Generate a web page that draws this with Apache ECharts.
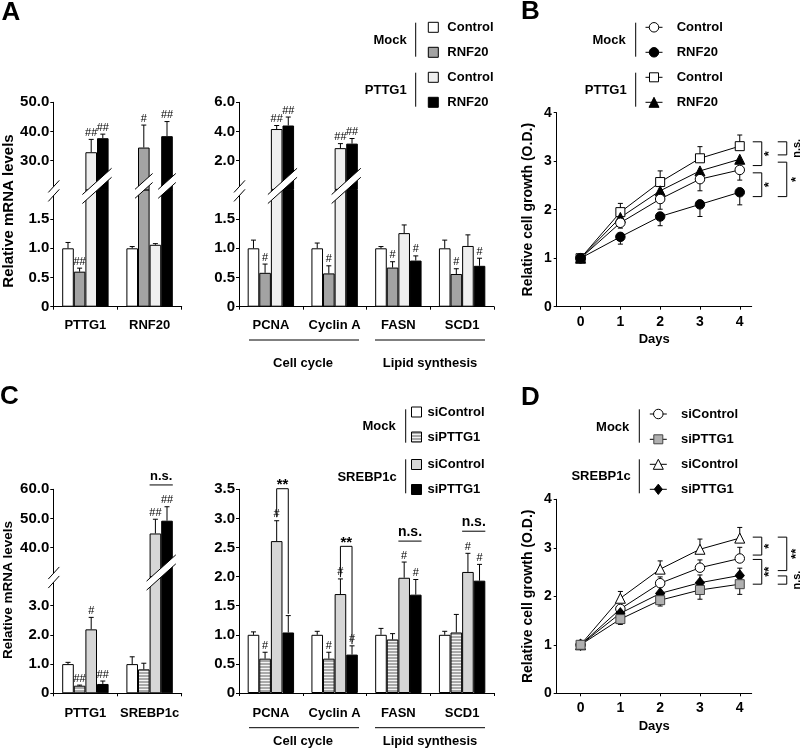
<!DOCTYPE html>
<html>
<head>
<meta charset="utf-8">
<script src="https://cdn.jsdelivr.net/npm/echarts@6/dist/echarts.min.js"></script>
<style>
  html, body { margin: 0; padding: 0; background: #fff; }
  #chart { width: 800px; height: 750px; }
</style>
</head>
<body>
<div id="chart"></div>
<script>
// ---- A: relative mRNA levels (rows: Mock Control, Mock RNF20, PTTG1 Control, PTTG1 RNF20)
const catA1 = ['PTTG1', 'RNF20'];
const meanA1 = [[1.00, 1.00], [0.60, 34.5], [32.9, 1.06], [37.7, 38.4]];
const errA1 = [[1.10, 1.03], [0.66, 42.2], [37.3, 1.08], [39.1, 43.4]];   // top of error bar
const markA1 = [['', ''], ['##', '#'], ['##', ''], ['##', '##']];

const catA2 = ['PCNA', 'Cyclin A', 'FASN', 'SCD1'];
const meanA2 = [[1.00, 1.00, 1.00, 1.00], [0.58, 0.57, 0.67, 0.56], [4.17, 2.86, 1.26, 1.04], [4.41, 3.17, 0.79, 0.70]];
const errA2 = [[1.14, 1.09, 1.03, 1.14], [0.73, 0.70, 0.77, 0.65], [4.41, 3.17, 1.40, 1.23], [4.99, 3.52, 0.87, 0.83]];
const markA2 = [['', '', '', ''], ['#', '#', '#', '#'], ['##', '##', '', ''], ['##', '##', '#', '#']];

// ---- C: rows: Mock siControl, Mock siPTTG1, SREBP1c siControl, SREBP1c siPTTG1
const catC1 = ['PTTG1', 'SREBP1c'];
const meanC1 = [[1.00, 1.00], [0.26, 0.82], [2.19, 44.8], [0.32, 49.2]];
const errC1 = [[1.06, 1.25], [0.28, 1.03], [2.60, 49.7], [0.42, 54.0]];
const markC1 = [['', ''], ['##', ''], ['#', '##'], ['##', '##']];
const sigC1 = [[1, 2, 3, 61.5, null, null, 'n.s.']];

const catC2 = ['PCNA', 'Cyclin A', 'FASN', 'SCD1'];
const meanC2 = [[1.00, 1.00, 1.00, 1.00], [0.59, 0.59, 0.92, 1.04], [2.61, 1.70, 1.98, 2.08], [1.04, 0.66, 1.69, 1.93]];
const errC2 = [[1.05, 1.06, 1.11, 1.06], [0.70, 0.70, 1.02, 1.35], [2.96, 1.96, 2.25, 2.40], [1.33, 0.81, 1.95, 2.21]];
const markC2 = [['', '', '', ''], ['#', '#', '', ''], ['#', '#', '#', '#'], ['', '#', '#', '#']];
// category, first bar, last bar, line y, leg y first, leg y last, label
const sigC2 = [[0, 2, 3, 3.51, 3.02, 1.36, '**'], [1, 2, 3, 2.52, 1.99, 0.84, '**'],
               [2, 2, 3, 2.61, null, null, 'n.s.'], [3, 2, 3, 2.78, null, null, 'n.s.']];

// ---- B / D: relative cell growth
const days = [0, 1, 2, 3, 4];
const bMockCtrl = [1.00, 1.73, 2.22, 2.63, 2.82];
const bMockCtrlErr = [null, 1.62, 2.01, 2.39, 2.61];
const bMockRnf = [1.00, 1.44, 1.86, 2.11, 2.36];
const bMockRnfErr = [null, 1.29, 1.67, 1.86, 2.10];
const bPttgCtrl = [1.00, 1.95, 2.57, 3.06, 3.31];
const bPttgCtrlErr = [null, 2.13, 2.80, 3.30, 3.54];
const bPttgRnf = [1.00, 1.84, 2.39, 2.80, 3.04];
const bPttgRnfErr = [null, null, null, null, null];
const bSig = [[3.40, 2.91, 0, '*'], [2.76, 2.27, 0, '*'], [3.40, 3.13, 1, 'n.s.'], [2.98, 2.27, 1, '*']];

const dMockCtrl = [1.00, 1.74, 2.27, 2.59, 2.78];
const dMockCtrlErr = [null, null, 2.40, 2.75, 3.01];
const dMockSi = [1.00, 1.53, 1.92, 2.13, 2.25];
const dMockSiErr = [null, 1.42, 1.80, 1.94, 2.04];
const dSrebCtrl = [1.00, 1.96, 2.56, 2.97, 3.20];
const dSrebCtrlErr = [null, 2.10, 2.73, 3.18, 3.42];
const dSrebSi = [1.00, 1.65, 2.06, 2.28, 2.43];
const dSrebSiErr = [null, null, null, 2.44, 2.58];
const dSig = [[3.22, 2.85, 0, '*'], [2.76, 2.25, 0, '**'], [3.22, 2.53, 1, '**'], [2.42, 2.25, 1, 'n.s.']];

const FONT = '"Liberation Sans", Arial, sans-serif';
const BW = 11.6;
const grid = [], xAxis = [], yAxis = [], series = [], graphic = [];

// striped fill for siPTTG1 (Mock)
const stripe = document.createElement('canvas');
stripe.width = 4; stripe.height = 3;
const sctx = stripe.getContext('2d');
sctx.fillStyle = '#a9a9a9'; sctx.fillRect(0, 0, 4, 2);
sctx.fillStyle = '#f4f4f4'; sctx.fillRect(0, 2, 4, 1);
const stripeFill = { image: stripe, repeat: 'repeat' };

const edge = { borderColor: '#000', borderWidth: 1 };
const stylesA = [{ color: '#fff', ...edge }, { color: '#a3a3a3', ...edge }, { color: '#efefef', ...edge }, { color: '#000', ...edge }];
const stylesC = [{ color: '#fff', ...edge }, { color: stripeFill, ...edge }, { color: '#d6d6d6', ...edge }, { color: '#000', ...edge }];

const fmt1 = v => v === 0 ? '0' : v.toFixed(1);

function seg(x1, y1, x2, y2) {
  return { type: 'line', shape: { x1, y1, x2, y2 }, style: { stroke: '#000', lineWidth: 1 } };
}
function label(text, x, y, va, font, rot, align) {
  const al = align || 'center';
  return {
    type: 'text', x, y, rotation: rot || 0, silent: true,
    style: { text, x: 0, y: 0, font, fill: '#000', align: al, textAlign: al, verticalAlign: va, textVerticalAlign: va }
  };
}

function catAxis(gi, cats, show, margin) {
  return {
    type: 'category', gridIndex: gi, data: cats, show,
    axisLine: { onZero: false, lineStyle: { color: '#000', width: 1 } },
    axisTick: { show: true, interval: 0, length: 3, lineStyle: { color: '#000' } },
    axisLabel: { interval: 0, margin, color: '#000', fontFamily: FONT, fontWeight: 'bold', fontSize: 13 }
  };
}
function valAxis(gi, min, max, ticks) {
  return {
    type: 'value', gridIndex: gi, min, max,
    splitLine: { show: false },
    axisLine: { show: true, onZero: false, lineStyle: { color: '#000' } },
    axisTick: { show: true, length: 3, customValues: ticks, lineStyle: { color: '#000' } },
    axisLabel: { customValues: ticks, formatter: fmt1, margin: 4, color: '#000', fontFamily: FONT, fontWeight: 'bold', fontSize: 15 }
  };
}

function errSeries(xi, yi, k, mean, top, mark, keep) {
  const rows = [];
  mean.forEach((v, c) => { if (keep(v)) rows.push([c, v, top[c], mark[c]]); });
  return {
    type: 'custom', xAxisIndex: xi, yAxisIndex: yi, z: 5, silent: true,
    data: rows.map(r => [r[0], r[1], r[2]]),
    renderItem(params, api) {
      const r = rows[params.dataIndex];
      const a = api.coord([r[0], r[1]]);
      const b = api.coord([r[0], r[2]]);
      const x = a[0] + (k - 1.5) * BW;
      const kids = [seg(x, a[1], x, b[1]), seg(x - 2.5, b[1], x + 2.5, b[1])];
      if (r[3]) kids.push(label(r[3], x, b[1] - 1, 'bottom', 'normal 11px ' + FONT));
      return { type: 'group', children: kids };
    }
  };
}

function band(x1, x2, cy, s, t) {
  const cx = (x1 + x2) / 2;
  const yl = cy + s * (cx - x1), yr = cy - s * (x2 - cx);
  return [
    { type: 'polygon', shape: { points: [[x1, yl - t / 2], [x2, yr - t / 2], [x2, yr + t / 2], [x1, yl + t / 2]] }, style: { fill: '#fff' } },
    seg(x1, yl - t / 2, x2, yr - t / 2),
    seg(x1, yl + t / 2, x2, yr + t / 2)
  ];
}

// axis break + bar breaks at the junction of the two grids
function breakSeries(xi, yi, yVal, list) {
  const rows = list.concat([[-1]]);
  return {
    type: 'custom', xAxisIndex: xi, yAxisIndex: yi, z: 10, silent: true,
    data: rows.map(r => [Math.max(r[0], 0), yVal]),
    renderItem(params, api) {
      const r = rows[params.dataIndex];
      const c = api.coord([Math.max(r[0], 0), yVal]);
      if (r[0] < 0) {
        const ax = c[0] - api.size([1, 0])[0] / 2;
        return { type: 'group', children: band(ax - 5, ax + 6, c[1] + 1, 1.1, 9) };
      }
      const x1 = c[0] + (r[1] - 2) * BW - 3, x2 = c[0] + (r[2] - 1) * BW + 3;
      return { type: 'group', children: band(x1, x2, c[1] - 4, 0.9, 9) };
    }
  };
}

function sigSeries(xi, yi, list, size) {
  return {
    type: 'custom', xAxisIndex: xi, yAxisIndex: yi, z: 6, silent: true,
    data: list.map(r => [r[0], r[3]]),
    renderItem(params, api) {
      const r = list[params.dataIndex];
      const c = api.coord([r[0], r[3]]);
      const kids = [];
      if (r[4] == null) {
        const xa = c[0] + (r[1] - 2) * BW, xb = c[0] + (r[2] - 1) * BW;
        kids.push(seg(xa, c[1], xb, c[1]));
        kids.push(label(r[6], (xa + xb) / 2, c[1] - 2, 'bottom', 'bold ' + size + 'px ' + FONT));
      } else {
        const xa = c[0] + (r[1] - 1.5) * BW, xb = c[0] + (r[2] - 1.5) * BW;
        const ya = api.coord([r[0], r[4]])[1], yb = api.coord([r[0], r[5]])[1];
        kids.push({ type: 'polyline', shape: { points: [[xa, ya], [xa, c[1]], [xb, c[1]], [xb, yb]] }, style: { stroke: '#000', fill: null, lineWidth: 1 } });
        kids.push(label(r[6], (xa + xb) / 2, c[1] + 4, 'bottom', 'bold 15px ' + FONT));
      }
      return { type: 'group', children: kids };
    }
  };
}

function addBarPanel(p) {
  const gLo = grid.push({ left: p.left, width: p.width, top: p.yBreak, height: p.y0 - p.yBreak }) - 1;
  const xLo = xAxis.push(catAxis(gLo, p.cats, true, p.labelMargin)) - 1;
  const yLo = yAxis.push(valAxis(gLo, 0, p.loMax, p.loTicks)) - 1;
  let xUp = null, yUp = null;
  if (p.upMax != null) {
    const gUp = grid.push({ left: p.left, width: p.width, top: p.yTop, height: p.yBreak - p.yTop }) - 1;
    xUp = xAxis.push(catAxis(gUp, p.cats, false, 0)) - 1;
    yUp = yAxis.push(valAxis(gUp, p.upMin, p.upMax, p.upTicks)) - 1;
  }
  p.mean.forEach((row, k) => {
    series.push({ type: 'bar', xAxisIndex: xLo, yAxisIndex: yLo, data: row, barWidth: BW, barGap: '0%', itemStyle: p.styles[k], clip: true, silent: true });
    series.push(errSeries(xLo, yLo, k, row, p.err[k], p.mark[k], v => v <= p.loMax));
    if (yUp != null) {
      series.push({ type: 'bar', xAxisIndex: xUp, yAxisIndex: yUp, data: row.map(v => v > p.loMax ? v : '-'), barWidth: BW, barGap: '0%', itemStyle: p.styles[k], clip: true, silent: true });
      series.push(errSeries(xUp, yUp, k, row, p.err[k], p.mark[k], v => v > p.loMax));
    }
  });
  if (yUp != null) series.push(breakSeries(xLo, yLo, p.loMax, p.breaks));
  if (p.sig) series.push(p.sigUp ? sigSeries(xUp, yUp, p.sig, p.sigSize) : sigSeries(xLo, yLo, p.sig, p.sigSize));
}

function lineErr(xi, yi, mean, end) {
  const rows = [];
  days.forEach((d, i) => { if (end[i] != null) rows.push([d, mean[i], end[i]]); });
  return {
    type: 'custom', xAxisIndex: xi, yAxisIndex: yi, z: 1, silent: true, data: rows,
    renderItem(params, api) {
      const a = api.coord([api.value(0), api.value(1)]);
      const b = api.coord([api.value(0), api.value(2)]);
      return { type: 'group', children: [seg(a[0], a[1], a[0], b[1]), seg(a[0] - 2.5, b[1], a[0] + 2.5, b[1])] };
    }
  };
}

function bracketSeries(xi, yi, list) {
  const last = days[days.length - 1];
  return {
    type: 'custom', xAxisIndex: xi, yAxisIndex: yi, z: 6, silent: true,
    data: list.map(r => [last, r[0]]),
    renderItem(params, api) {
      const r = list[params.dataIndex];
      const a = api.coord([last, r[0]]), b = api.coord([last, r[1]]);
      const xl = a[0] + (r[2] ? 38 : 13), xr = a[0] + (r[2] ? 47 : 22), xt = a[0] + (r[2] ? 57 : 30);
      return { type: 'group', children: [
        { type: 'polyline', shape: { points: [[xl, a[1]], [xr, a[1]], [xr, b[1]], [xl, b[1]]] }, style: { stroke: '#000', fill: null, lineWidth: 1 } },
        label(r[3], xt, (a[1] + b[1]) / 2, 'middle', 'bold ' + (r[3] === 'n.s.' ? 11 : 13) + 'px ' + FONT, Math.PI / 2)
      ] };
    }
  };
}

function addLinePanel(p) {
  const g = grid.push({ left: 556.7, width: 195, top: p.top, height: 194 }) - 1;
  const axisFont = { color: '#000', fontFamily: FONT, fontWeight: 'bold', fontSize: 14 };
  const xi = xAxis.push({
    type: 'value', gridIndex: g, min: -0.6, max: 4.3,
    name: 'Days', nameLocation: 'middle', nameGap: p.nameGap, nameTextStyle: { ...axisFont, fontSize: 13 },
    splitLine: { show: false },
    axisLine: { onZero: false, lineStyle: { color: '#000' } },
    axisTick: { show: true, customValues: days, length: 3, lineStyle: { color: '#000' } },
    axisLabel: { customValues: days, margin: 8, ...axisFont }
  }) - 1;
  const yi = yAxis.push({
    type: 'value', gridIndex: g, min: 0, max: 4, interval: 1,
    name: 'Relative cell growth (O.D.)', nameLocation: 'middle', nameGap: 22, nameTextStyle: axisFont,
    splitLine: { show: false },
    axisLine: { show: true, onZero: false, lineStyle: { color: '#000' } },
    axisTick: { show: true, length: 3, lineStyle: { color: '#000' } },
    axisLabel: { margin: 5, ...axisFont }
  }) - 1;
  p.lines.forEach(l => {
    series.push({
      type: 'line', xAxisIndex: xi, yAxisIndex: yi, z: 3, silent: true,
      data: days.map((d, i) => [d, l.mean[i]]),
      symbol: l.symbol, symbolSize: l.size, showAllSymbol: true,
      itemStyle: { color: l.fill, borderColor: l.stroke, borderWidth: 1 },
      lineStyle: { color: '#000', width: 1 }
    });
    series.push(lineErr(xi, yi, l.mean, l.err));
  });
  series.push(bracketSeries(xi, yi, p.sig));
}

// ---- panels
addBarPanel({ cats: catA1, mean: meanA1, err: errA1, mark: markA1, styles: stylesA,
  left: 53.3, width: 128.4, y0: 306.7, yBreak: 189.9, yTop: 102.3, labelMargin: 12,
  loMax: 2, loTicks: [0, 0.5, 1, 1.5], upMin: 20, upMax: 50, upTicks: [30, 40, 50],
  breaks: [[0, 2, 3], [1, 1, 1], [1, 3, 3]] });
addBarPanel({ cats: catA2, mean: meanA2, err: errA2, mark: markA2, styles: stylesA,
  left: 239, width: 255, y0: 306.7, yBreak: 189.9, yTop: 102.3, labelMargin: 12,
  loMax: 2, loTicks: [0, 0.5, 1, 1.5], upMin: 0, upMax: 6, upTicks: [2, 4, 6],
  breaks: [[0, 2, 3], [1, 2, 3]] });
addBarPanel({ cats: catC1, mean: meanC1, err: errC1, mark: markC1, styles: stylesC,
  left: 53.3, width: 128.4, y0: 693.3, yBreak: 576.5, yTop: 489.3, labelMargin: 14,
  loMax: 4, loTicks: [0, 1, 2, 3], upMin: 30, upMax: 60, upTicks: [40, 50, 60],
  breaks: [[1, 2, 3]], sig: sigC1, sigUp: true, sigSize: 13 });
addBarPanel({ cats: catC2, mean: meanC2, err: errC2, mark: markC2, styles: stylesC,
  left: 239, width: 255, y0: 693, yBreak: 489.3, labelMargin: 14,
  loMax: 3.5, loTicks: [0, 0.5, 1, 1.5, 2, 2.5, 3, 3.5],
  sig: sigC2, sigSize: 14 });

addLinePanel({ top: 112.7, nameGap: 26, sig: bSig, lines: [
  { mean: bPttgCtrl, err: bPttgCtrlErr, symbol: 'rect', size: 9, fill: '#fff', stroke: '#000' },
  { mean: bPttgRnf, err: bPttgRnfErr, symbol: 'triangle', size: 10, fill: '#000', stroke: '#000' },
  { mean: bMockCtrl, err: bMockCtrlErr, symbol: 'circle', size: 9.5, fill: '#fff', stroke: '#000' },
  { mean: bMockRnf, err: bMockRnfErr, symbol: 'circle', size: 9.5, fill: '#000', stroke: '#000' }
] });
addLinePanel({ top: 499.3, nameGap: 27, sig: dSig, lines: [
  { mean: dSrebCtrl, err: dSrebCtrlErr, symbol: 'triangle', size: 10, fill: '#fff', stroke: '#000' },
  { mean: dMockCtrl, err: dMockCtrlErr, symbol: 'circle', size: 9.5, fill: '#fff', stroke: '#000' },
  { mean: dSrebSi, err: dSrebSiErr, symbol: 'diamond', size: [9, 11], fill: '#000', stroke: '#000' },
  { mean: dMockSi, err: dMockSiErr, symbol: 'rect', size: 9, fill: '#b0b0b0', stroke: '#444' }
] });

// ---- decorations: panel letters, axis titles, group captions, legends
const bold = s => 'bold ' + s + 'px ' + FONT;
graphic.push(label('A', 1.5, 12.5, 'middle', bold(26), 0, 'left'));
graphic.push(label('B', 521, 12, 'middle', bold(26), 0, 'left'));
graphic.push(label('C', 0, 396.5, 'middle', bold(26), 0, 'left'));
graphic.push(label('D', 521, 397.5, 'middle', bold(26), 0, 'left'));
graphic.push(label('Relative mRNA levels', 8.5, 211, 'middle', bold(15), Math.PI / 2));
graphic.push(label('Relative mRNA levels', 8.5, 590, 'middle', bold(13.5), Math.PI / 2));

[[340, 363.3], [727.7, 741.7]].forEach(([ly, ty]) => {
  graphic.push(seg(249, ly, 359, ly), seg(375, ly, 485, ly));
  graphic.push(label('Cell cycle', 303, ty, 'middle', bold(13)));
  graphic.push(label('Lipid synthesis', 430, ty, 'middle', bold(13)));
});

function symbolEl(kind, cx, cy, size, fill, stroke) {
  const h = size / 2, style = { fill, stroke, lineWidth: 1 };
  if (kind === 'circle') return { type: 'circle', shape: { cx, cy, r: h }, style };
  if (kind === 'rect') return { type: 'rect', shape: { x: cx - h, y: cy - h, width: size, height: size }, style };
  if (kind === 'triangle') return { type: 'polygon', shape: { points: [[cx, cy - h], [cx + h, cy + h], [cx - h, cy + h]] }, style };
  return { type: 'polygon', shape: { points: [[cx, cy - h * 1.15], [cx + h * 0.9, cy], [cx, cy + h * 1.15], [cx - h * 0.9, cy]] }, style };
}

function addLegend(L) {
  L.groups.forEach(g => {
    graphic.push(label(g.text, g.x, g.y, 'middle', bold(13), 0, 'right'));
    graphic.push(seg(L.lineX, g.y1, L.lineX, g.y2));
  });
  L.rows.forEach((r, i) => {
    const y = L.rowY[i];
    if (L.box) {
      graphic.push({ type: 'rect', shape: { x: L.markX - 5, y: y - 5, width: 10, height: 10 }, style: { fill: r.fill, stroke: '#000', lineWidth: 1 } });
    } else {
      graphic.push(seg(L.markX - 8.5, y, L.markX + 8.5, y));
      graphic.push(symbolEl(r.sym, L.markX, y, r.size, r.fill, r.stroke));
    }
    graphic.push(label(r.text, L.textX, y, 'middle', bold(13), 0, 'left'));
  });
}

addLegend({ box: true, lineX: 415.7, markX: 433.3, textX: 447.3, rowY: [27.3, 52.3, 77.3, 102.3],
  groups: [{ text: 'Mock', x: 406.7, y: 40, y1: 22.7, y2: 56.7 }, { text: 'PTTG1', x: 406.7, y: 90, y1: 72.7, y2: 106.7 }],
  rows: [{ text: 'Control', fill: '#fff' }, { text: 'RNF20', fill: '#a3a3a3' }, { text: 'Control', fill: '#efefef' }, { text: 'RNF20', fill: '#000' }] });
addLegend({ box: false, lineX: 635.7, markX: 654, textX: 676.7, rowY: [27.3, 52.3, 77.3, 102.3],
  groups: [{ text: 'Mock', x: 625.7, y: 40, y1: 22.7, y2: 56.7 }, { text: 'PTTG1', x: 626.7, y: 90, y1: 72.7, y2: 106.7 }],
  rows: [{ text: 'Control', sym: 'circle', size: 9.5, fill: '#fff', stroke: '#000' },
         { text: 'RNF20', sym: 'circle', size: 9.5, fill: '#000', stroke: '#000' },
         { text: 'Control', sym: 'rect', size: 9, fill: '#fff', stroke: '#000' },
         { text: 'RNF20', sym: 'triangle', size: 10, fill: '#000', stroke: '#000' }] });
addLegend({ box: true, lineX: 405.7, markX: 416.5, textX: 427.5, rowY: [412, 437, 464.5, 489.5],
  groups: [{ text: 'Mock', x: 395.7, y: 426.7, y1: 409.3, y2: 442.7 }, { text: 'SREBP1c', x: 396.7, y: 477.3, y1: 459.3, y2: 493.3 }],
  rows: [{ text: 'siControl', fill: '#fff' }, { text: 'siPTTG1', fill: stripeFill }, { text: 'siControl', fill: '#d6d6d6' }, { text: 'siPTTG1', fill: '#000' }] });
addLegend({ box: false, lineX: 639.3, markX: 658.3, textX: 681, rowY: [414, 439.3, 464.3, 489.3],
  groups: [{ text: 'Mock', x: 629.3, y: 427.3, y1: 409.3, y2: 442.7 }, { text: 'SREBP1c', x: 630.7, y: 476.7, y1: 459.3, y2: 493.3 }],
  rows: [{ text: 'siControl', sym: 'circle', size: 9.5, fill: '#fff', stroke: '#000' },
         { text: 'siPTTG1', sym: 'rect', size: 9, fill: '#b0b0b0', stroke: '#444' },
         { text: 'siControl', sym: 'triangle', size: 10, fill: '#fff', stroke: '#000' },
         { text: 'siPTTG1', sym: 'diamond', size: 9, fill: '#000', stroke: '#000' }] });

const chart = echarts.init(document.getElementById('chart'));
chart.setOption({
  animation: false,
  textStyle: { fontFamily: FONT },
  grid, xAxis, yAxis, series, graphic
});
</script>
</body>
</html>
